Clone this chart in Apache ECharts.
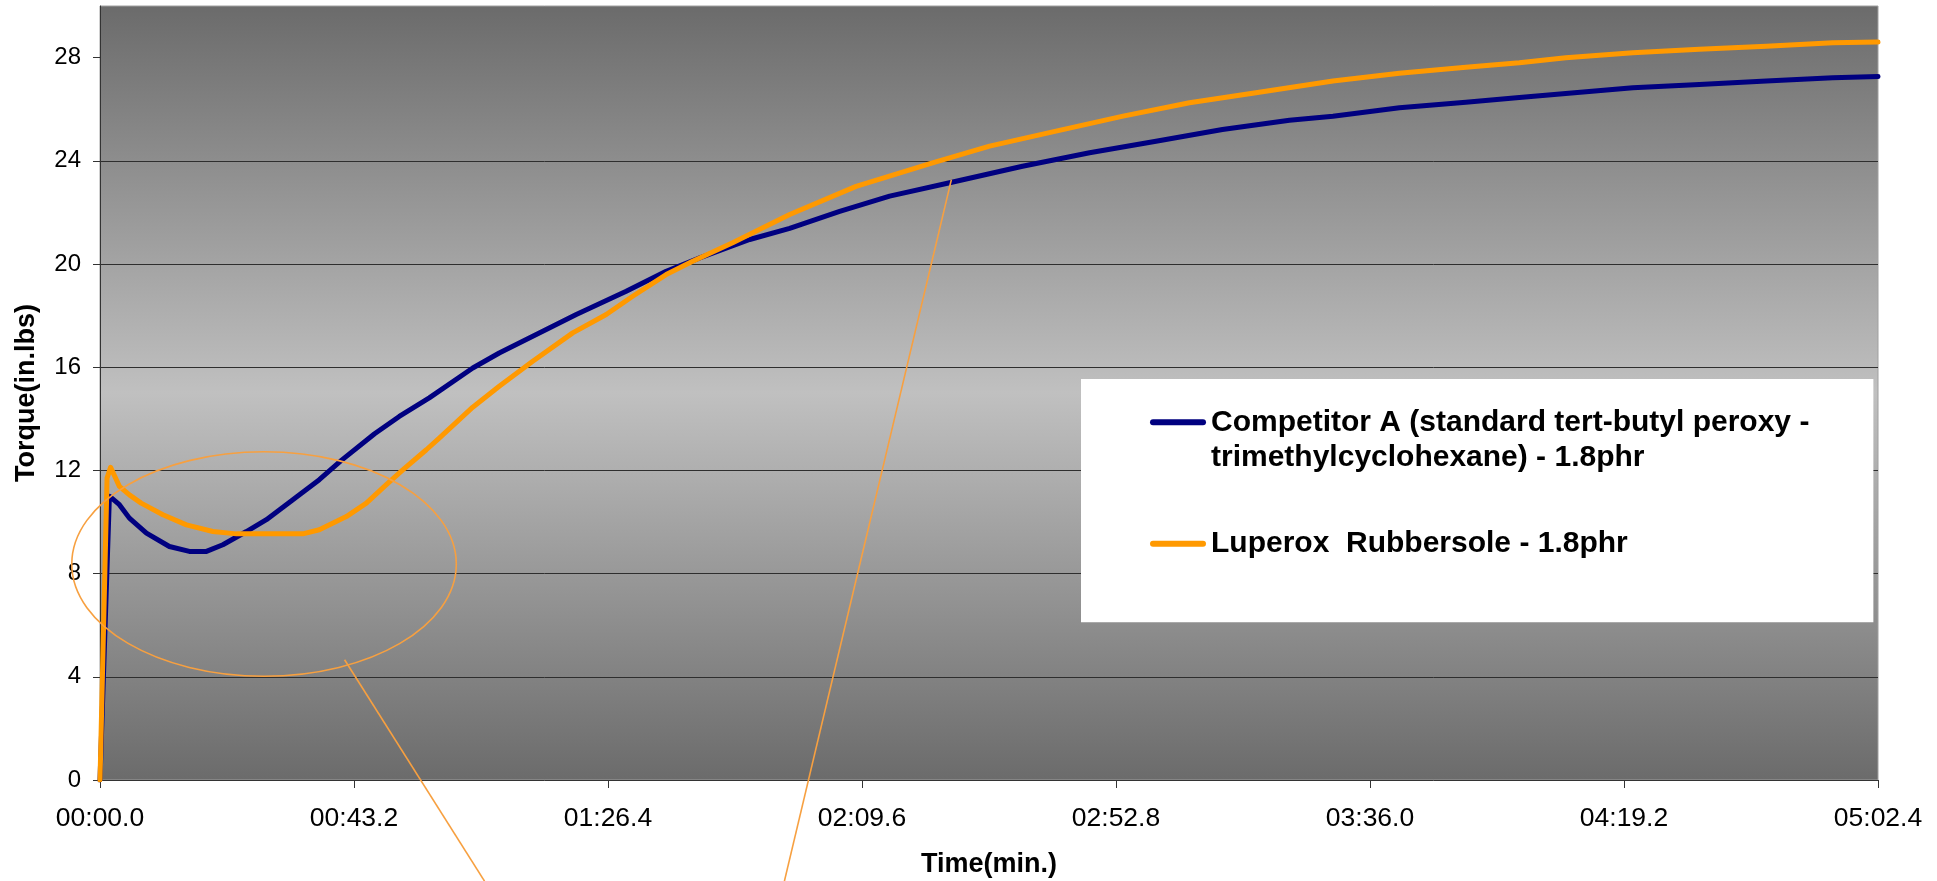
<!DOCTYPE html>
<html>
<head>
<meta charset="utf-8">
<script src="https://cdn.jsdelivr.net/npm/echarts@6/dist/echarts.min.js"></script>
<style>
html,body{margin:0;padding:0;background:#ffffff;}
#c{width:1937px;height:881px;}
</style>
</head>
<body>
<div id="c"></div>
<script>
// ---- data (time in seconds, torque in in.lbs) ----
const seriesNames = [
  'Competitor A (standard tert-butyl peroxy - trimethylcyclohexane) - 1.8phr',
  'Luperox  Rubbersole - 1.8phr'
];
const compTime = [0, 1.6, 3.3, 5.0, 7.9, 11.8, 15.2, 18.1, 20.9, 24.9, 28.3, 32.8, 37.3, 41.0, 46.7, 50.9, 56.0, 63.4, 67.9, 75.9, 81.0, 89.5, 96.3, 102.0, 110.5, 117.3, 125.8, 134.3, 144.5, 156.9, 168.3, 179.6, 190.9, 202.3, 209.7, 221.0, 232.3, 241.4, 249.3, 260.7, 272.0, 283.4, 294.7, 302.4];
const compTorque = [0, 11.0, 10.67, 10.15, 9.57, 9.05, 8.86, 8.86, 9.12, 9.63, 10.09, 10.86, 11.64, 12.38, 13.42, 14.09, 14.81, 15.97, 16.55, 17.46, 18.04, 18.94, 19.72, 20.24, 20.95, 21.38, 22.04, 22.63, 23.15, 23.79, 24.31, 24.76, 25.21, 25.57, 25.73, 26.06, 26.27, 26.45, 26.61, 26.83, 26.96, 27.09, 27.22, 27.27];
const lupTime = [0, 1.2, 1.8, 3.3, 5.0, 7.0, 10.7, 14.7, 19.2, 23.2, 27.7, 34.5, 37.3, 41.9, 45.3, 48.7, 51.5, 55.5, 57.7, 63.4, 67.9, 73.6, 80.4, 86.1, 90.6, 96.3, 100.8, 107.6, 117.3, 128.6, 141.6, 151.3, 162.6, 174.0, 185.3, 196.6, 209.7, 221.0, 232.3, 241.4, 249.3, 260.7, 272.0, 283.4, 294.7, 302.4];
const lupTorque = [0, 11.7, 12.12, 11.38, 11.05, 10.73, 10.28, 9.89, 9.63, 9.54, 9.54, 9.54, 9.70, 10.21, 10.73, 11.45, 12.02, 12.80, 13.25, 14.45, 15.26, 16.23, 17.33, 18.04, 18.75, 19.59, 20.11, 20.82, 21.92, 23.01, 23.92, 24.57, 25.15, 25.73, 26.25, 26.64, 27.09, 27.39, 27.63, 27.80, 27.99, 28.19, 28.32, 28.44, 28.58, 28.60];
const xTickLabels = ['00:00.0', '00:43.2', '01:26.4', '02:09.6', '02:52.8', '03:36.0', '04:19.2', '05:02.4'];
const xTickStep = 43.2;
const yTickValues = [0, 4, 8, 12, 16, 20, 24, 28];

// annotation anchors (data units)
const ellipseCenter = [27.9, 8.37];
const ellipseRadius = [32.7, 4.35];
const callout1 = [[41.6, 4.66], [65.4, -3.92]];
const callout2 = [[144.8, 23.27], [116.4, -3.92]];

const FONT = '"Liberation Sans", Arial, Helvetica, sans-serif';
const BLUE = '#000080';
const ORANGE = '#ff9900';
const ANNOT = '#f7a040';

const zip = (a, b) => a.map((v, i) => [v, b[i]]);

const ICON1 = 'path://M0,0M56,41M3,0H53A3,3 0 0 1 53,6H3A3,3 0 0 1 3,0Z';
const ICON2 = 'path://M0,0M56,41M3,17.5H53A3,3 0 0 1 53,23.5H3A3,3 0 0 1 3,17.5Z';

const chart = echarts.init(document.getElementById('c'), null, {renderer: 'canvas'});

chart.setOption({
  animation: false,
  backgroundColor: '#ffffff',
  grid: {
    left: 100, right: 59, top: 6, bottom: 101,
    show: true,
    borderColor: '#a0a0a0', borderWidth: 1,
    backgroundColor: {
      type: 'linear', x: 0, y: 0, x2: 0, y2: 1,
      colorStops: [
        {offset: 0, color: '#6b6b6b'},
        {offset: 0.5, color: '#c0c0c0'},
        {offset: 1, color: '#6b6b6b'}
      ]
    },
    containLabel: false,
    outerBoundsMode: 'none'
  },
  legend: {
    orient: 'vertical',
    left: 1081, top: 379,
    padding: [25.8, 64, 58.1, 69],
    itemGap: 48.4,
    itemWidth: 56, itemHeight: 41,
    backgroundColor: '#ffffff',
    selectedMode: false,
    itemStyle: {borderWidth: 0},
    textStyle: {fontFamily: FONT, fontWeight: 'bold', fontSize: 30, lineHeight: 35, color: '#000000'},
    formatter: n => n.replace('peroxy - ', 'peroxy -\n'),
    data: [
      {name: seriesNames[0], icon: ICON1},
      {name: seriesNames[1], icon: ICON2}
    ]
  },
  xAxis: {
    type: 'value',
    min: 0, max: xTickStep * (xTickLabels.length - 1), interval: xTickStep,
    name: 'Time(min.)',
    nameLocation: 'middle', nameGap: 71, nameMoveOverlap: false,
    nameTextStyle: {fontFamily: FONT, fontWeight: 'bold', fontSize: 27, lineHeight: 27, color: '#000000'},
    axisLine: {show: true, onZero: false, lineStyle: {color: '#333333', width: 1}},
    axisTick: {show: true, inside: false, length: 8, lineStyle: {color: '#333333'}},
    axisLabel: {
      margin: 25, fontFamily: FONT, fontSize: 26.5, lineHeight: 26.5, color: '#000000',
      showMaxLabel: true, showMinLabel: true, hideOverlap: false,
      formatter: v => xTickLabels[Math.round(v / xTickStep)] || ''
    },
    splitLine: {show: false}
  },
  yAxis: {
    type: 'value',
    min: 0, max: 30, interval: 4,
    name: 'Torque(in.lbs)',
    nameLocation: 'middle', nameGap: 60, nameRotate: 90, nameMoveOverlap: false,
    nameTextStyle: {fontFamily: FONT, fontWeight: 'bold', fontSize: 27, lineHeight: 27, color: '#000000'},
    axisLine: {show: true, lineStyle: {color: '#333333', width: 1}},
    axisTick: {show: true, inside: false, length: 7, customValues: yTickValues, lineStyle: {color: '#333333'}},
    axisLabel: {
      margin: 19, fontFamily: FONT, fontSize: 24, color: '#000000',
      customValues: yTickValues
    },
    splitLine: {show: true, showMinLine: false, showMaxLine: false, lineStyle: {color: '#2e2e2e', width: 1}}
  },
  series: [
    {
      name: seriesNames[0], type: 'line', data: zip(compTime, compTorque),
      symbol: 'none', color: BLUE, z: 2,
      lineStyle: {color: BLUE, width: 5, cap: 'round', join: 'round'}
    },
    {
      name: seriesNames[1], type: 'line', data: zip(lupTime, lupTorque),
      symbol: 'none', color: ORANGE, z: 3,
      lineStyle: {color: ORANGE, width: 5, cap: 'round', join: 'round'}
    }
  ]
});

// annotations positioned through the axes
const px = p => chart.convertToPixel({gridIndex: 0}, p);
const c = px(ellipseCenter);
const ex = px([ellipseCenter[0] + ellipseRadius[0], ellipseCenter[1]]);
const ey = px([ellipseCenter[0], ellipseCenter[1] + ellipseRadius[1]]);
const a1 = px(callout1[0]), b1 = px(callout1[1]);
const a2 = px(callout2[0]), b2 = px(callout2[1]);
chart.setOption({
  graphic: [
    {type: 'ellipse', z: 10, silent: true,
     shape: {cx: c[0], cy: c[1], rx: ex[0] - c[0], ry: c[1] - ey[1]},
     style: {fill: null, stroke: ANNOT, lineWidth: 1.6}},
    {type: 'line', z: 10, silent: true,
     shape: {x1: a1[0], y1: a1[1], x2: b1[0], y2: b1[1]},
     style: {stroke: ANNOT, lineWidth: 1.6}},
    {type: 'line', z: 10, silent: true,
     shape: {x1: a2[0], y1: a2[1], x2: b2[0], y2: b2[1]},
     style: {stroke: ANNOT, lineWidth: 1.6}}
  ]
});
</script>
</body>
</html>
